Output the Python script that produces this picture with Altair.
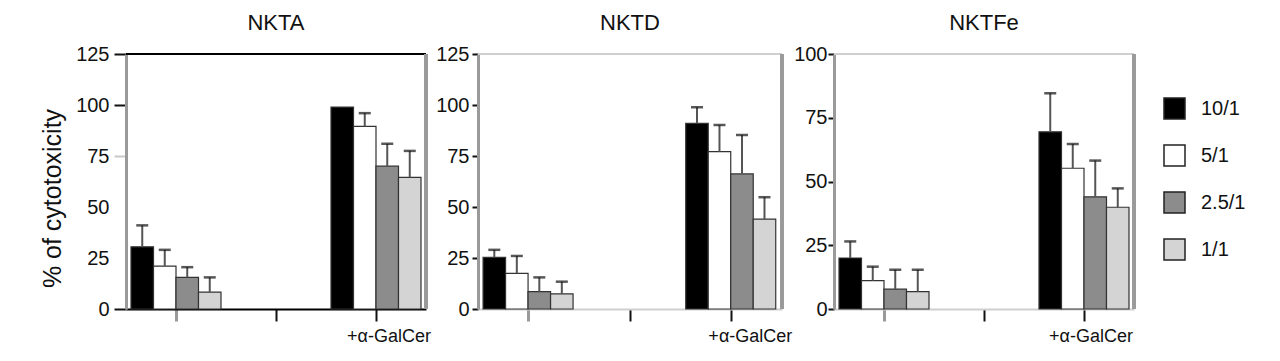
import altair as alt
import pandas as pd

# ---- data -----------------------------------------------------------------
panels = ["NKTA", "NKTD", "NKTFe"]
ratios = ["10/1", "5/1", "2.5/1", "1/1"]
conditions = ["alone", "gap", "+α-GalCer"]
ratio_fills = ["#000000", "#ffffff", "#8c8c8c", "#d4d4d4"]

nkta_alone = [30.5, 21.0, 15.5, 8.3]
nkta_alone_up = [41.0, 29.0, 20.5, 15.5]
nkta_gal = [99.0, 89.5, 70.0, 64.5]
nkta_gal_up = [99.0, 96.0, 81.0, 77.5]

nktd_alone = [25.3, 17.5, 8.5, 7.4]
nktd_alone_up = [29.0, 26.0, 15.5, 13.4]
nktd_gal = [91.0, 77.1, 66.2, 44.1]
nktd_gal_up = [98.9, 90.2, 85.3, 54.8]

nktfe_alone = [20.0, 11.1, 7.8, 6.8]
nktfe_alone_up = [26.5, 16.6, 15.4, 15.4]
nktfe_gal = [69.5, 55.2, 44.0, 39.9]
nktfe_gal_up = [84.6, 64.7, 58.2, 47.3]

y_max = {"NKTA": 125, "NKTD": 125, "NKTFe": 100}

series = {
    "NKTA": [(nkta_alone, nkta_alone_up), (nkta_gal, nkta_gal_up)],
    "NKTD": [(nktd_alone, nktd_alone_up), (nktd_gal, nktd_gal_up)],
    "NKTFe": [(nktfe_alone, nktfe_alone_up), (nktfe_gal, nktfe_gal_up)],
}

rows = []
for p in panels:
    for cond, (vals, ups) in zip(["alone", "+α-GalCer"], series[p]):
        for r, v, u in zip(ratios, vals, ups):
            rows.append({"panel": p, "condition": cond, "ratio": r, "value": v, "upper": u})
df = pd.DataFrame(rows)

FONT = "Liberation Sans, Arial, sans-serif"

H = 255
widths = [300, 304, 300]


def make_panel(name, idx):
    d = df[df.panel == name]
    ymax = y_max[name]
    W = widths[idx]
    ticks = list(range(0, ymax + 1, 25))
    frame_color = "#000000" if idx == 0 else "#cfcfcf"

    x_axis = alt.Axis(
        title=None,
        labelExpr="datum.value == '+α-GalCer' ? datum.value : ''",
        labelFont=FONT,
        labelFontSize=18,
        labelColor="#111",
        labelAngle=0,
        labelOffset=[13, 19, 7][idx],
        labelPadding=6,
        tickSize=12,
        tickColor={"condition": {"test": "datum.value == 'alone'", "value": "#9a9a9a"}, "value": "#111"},
        tickWidth={"condition": {"test": "datum.value == 'alone'", "value": 3}, "value": 2},
        domainColor=frame_color,
        domainWidth=2,
        grid=False,
    )
    if idx == 0:
        y_axis = alt.Axis(
            values=ticks,
            title="% of cytotoxicity",
            titleFont=FONT,
            titleFontSize=25,
            titleFontWeight="normal",
            titleColor="#111",
            titlePadding=10,
            titleY=144,
            labelFont=FONT,
            labelFontSize=20,
            labelColor="#111",
            labelPadding=5,
            tickSize=12,
            tickWidth=2,
            tickColor={"condition": {"test": "datum.value == 75", "value": "#c8c8c8"}, "value": "#111"},
            tickOpacity={"condition": {"test": "datum.value == 50 || datum.value == 25", "value": 0}, "value": 1},
            domainColor="#9a9a9a",
            domainWidth=3,
            grid=False,
        )
    else:
        y_axis = alt.Axis(
            values=ticks,
            title=None,
            labelFont=FONT,
            labelFontSize=20,
            labelColor="#111",
            labelPadding=[0, 3, 1][idx],
            tickSize=6,
            tickWidth=2,
            tickColor="#111",
            domainColor="#9a9a9a",
            domainWidth=3,
            grid=False,
        )

    xenc = alt.X("condition:N", scale=alt.Scale(domain=conditions, paddingInner=0.1, paddingOuter=0.05), axis=x_axis)
    xoff = alt.XOffset("ratio:N", scale=alt.Scale(domain=ratios, paddingInner=0, paddingOuter=0))
    yscale = alt.Scale(domain=[0, ymax], nice=False, zero=True)

    legend = None
    if idx == 2:
        legend = alt.Legend(
            orient="none",
            legendX=329,
            legendY=43,
            padding=0,
            title=None,
            symbolType="square",
            symbolSize=441,
            symbolStrokeColor="#222",
            symbolStrokeWidth=1.5,
            labelFont=FONT,
            labelFontSize=20,
            labelColor="#111",
            labelOffset=15,
            rowPadding=20,
        )

    base = alt.Chart(d)
    bars = base.mark_bar(stroke="#333", strokeWidth=1.2).encode(
        x=xenc,
        xOffset=xoff,
        y=alt.Y("value:Q", scale=yscale, axis=y_axis),
        fill=alt.Fill("ratio:N", scale=alt.Scale(domain=ratios, range=ratio_fills), legend=legend),
    )
    errd = base.transform_filter("datum.upper > datum.value")
    stems = errd.mark_rule(color="#555", strokeWidth=2).encode(
        x=xenc, xOffset=xoff, y=alt.Y("value:Q", scale=yscale), y2="upper:Q"
    )
    caps = errd.mark_tick(color="#111", thickness=2.5, size=12, orient="horizontal").encode(
        x=xenc, xOffset=xoff, y=alt.Y("upper:Q", scale=yscale)
    )
    top_rule = base.mark_rule(color=frame_color, strokeWidth=2).encode(
        x=alt.value(0), x2=alt.value(W), y=alt.value(0)
    )
    right_rule = base.mark_rule(color="#9a9a9a", strokeWidth=3).encode(
        x=alt.value(W), y=alt.value(0), y2=alt.value(H)
    )
    return alt.layer(bars, stems, caps, top_rule, right_rule).properties(
        width=W,
        height=H,
        title=alt.TitleParams(name, font=FONT, fontSize=22, fontWeight="normal", color="#111", offset=9),
    )


chart = alt.hconcat(
    *[make_panel(p, i) for i, p in enumerate(panels)], spacing=52, bounds="flush"
).resolve_scale(fill="shared").resolve_legend(fill="independent").properties(
    padding={"left": 32, "top": 4, "right": 0, "bottom": 0}
).configure_view(stroke=None)

chart.save("out.html", embed_options={"renderer": "svg", "actions": False})
